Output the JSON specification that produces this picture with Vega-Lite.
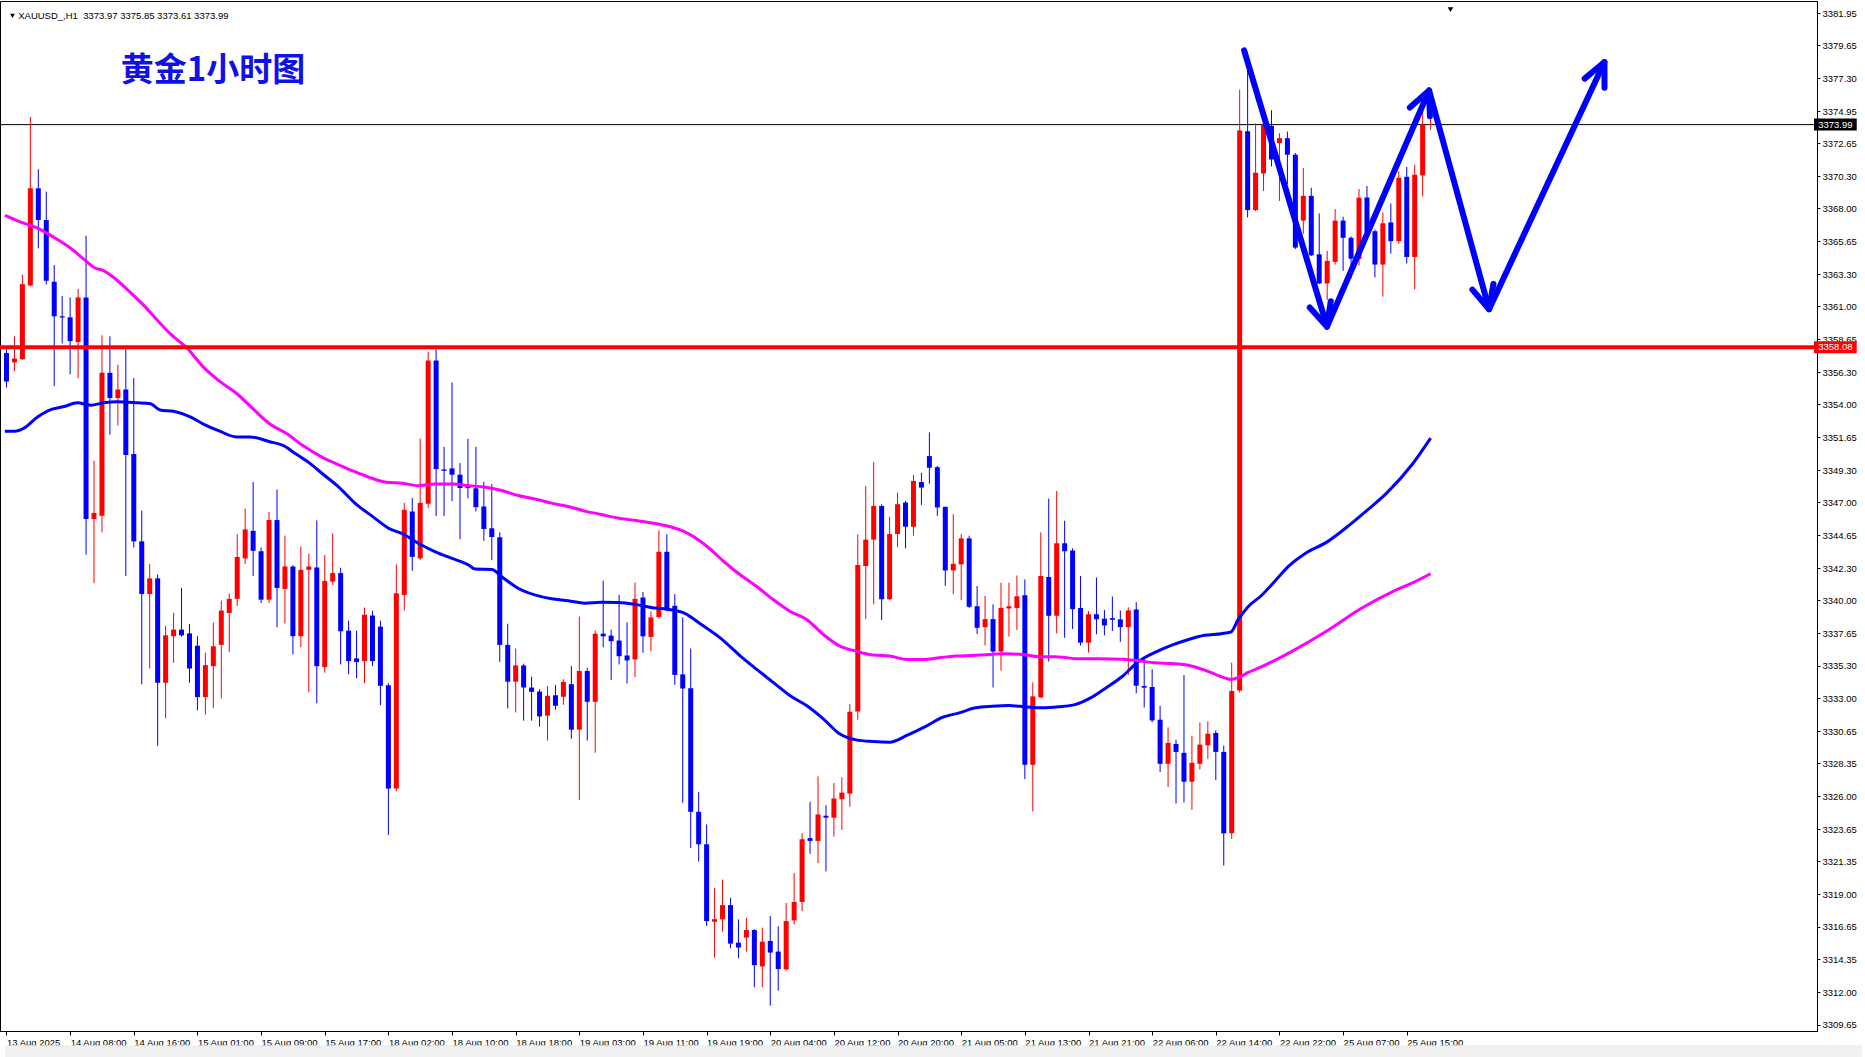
{
"$schema": "https://vega.github.io/schema/vega-lite/v6.json",
"autosize": {"type": "none"},
"width": 1817, "height": 1030,
"padding": {"left": 0, "top": 1, "right": 48, "bottom": 26},
"background": "white",
"view": {"stroke": "black", "strokeWidth": 1},
"config": {"axis": {"labelFont": "Liberation Sans", "labelFontSize": 9.5, "labelColor": "black", "tickColor": "black", "domainColor": "black", "grid": false, "labelOverlap": false, "labelFlush": false, "labelBound": false}},
"datasets": {
"candles": [
{"i":0,"o":3357.67,"h":3358.1,"l":3355.2,"c":3355.64},
{"i":1,"o":3357.0,"h":3358.86,"l":3356.38,"c":3357.27},
{"i":2,"o":3357.23,"h":3363.27,"l":3357.17,"c":3362.59},
{"i":3,"o":3362.49,"h":3374.53,"l":3362.42,"c":3369.44},
{"i":4,"o":3369.44,"h":3370.8,"l":3365.14,"c":3367.17},
{"i":5,"o":3367.17,"h":3369.2,"l":3362.56,"c":3362.83},
{"i":6,"o":3362.76,"h":3363.95,"l":3355.3,"c":3360.29},
{"i":7,"o":3360.3,"h":3361.75,"l":3358.35,"c":3360.2},
{"i":8,"o":3360.22,"h":3361.64,"l":3356.15,"c":3358.52},
{"i":9,"o":3358.45,"h":3362.25,"l":3355.88,"c":3361.64},
{"i":10,"o":3361.64,"h":3366.05,"l":3343.26,"c":3345.8},
{"i":11,"o":3345.8,"h":3349.97,"l":3341.22,"c":3346.24},
{"i":12,"o":3346.04,"h":3358.93,"l":3344.85,"c":3356.25},
{"i":13,"o":3356.25,"h":3358.86,"l":3351.84,"c":3354.45},
{"i":14,"o":3354.45,"h":3356.83,"l":3352.48,"c":3355.06},
{"i":15,"o":3355.06,"h":3358.01,"l":3341.73,"c":3350.38},
{"i":16,"o":3350.45,"h":3355.88,"l":3343.77,"c":3344.21},
{"i":17,"o":3344.21,"h":3346.41,"l":3333.99,"c":3340.44},
{"i":18,"o":3340.44,"h":3342.58,"l":3335.12,"c":3341.56},
{"i":19,"o":3341.56,"h":3341.83,"l":3329.59,"c":3334.1},
{"i":20,"o":3334.1,"h":3338.17,"l":3331.56,"c":3337.49},
{"i":21,"o":3337.43,"h":3339.09,"l":3335.52,"c":3337.9},
{"i":22,"o":3337.9,"h":3340.88,"l":3337.4,"c":3337.49},
{"i":23,"o":3337.63,"h":3338.31,"l":3334.1,"c":3335.12},
{"i":24,"o":3336.75,"h":3337.43,"l":3332.13,"c":3333.08},
{"i":25,"o":3333.08,"h":3336.24,"l":3331.83,"c":3335.36},
{"i":26,"o":3335.29,"h":3338.41,"l":3332.3,"c":3336.71},
{"i":27,"o":3336.81,"h":3339.97,"l":3332.98,"c":3339.26},
{"i":28,"o":3339.09,"h":3340.48,"l":3336.3,"c":3340.1},
{"i":29,"o":3340.1,"h":3344.72,"l":3339.59,"c":3343.09},
{"i":30,"o":3342.99,"h":3346.55,"l":3342.58,"c":3345.06},
{"i":31,"o":3344.96,"h":3348.45,"l":3341.73,"c":3343.53},
{"i":32,"o":3343.5,"h":3343.77,"l":3339.8,"c":3340.04},
{"i":33,"o":3340.04,"h":3346.31,"l":3339.8,"c":3345.73},
{"i":34,"o":3345.73,"h":3347.91,"l":3338.07,"c":3340.88},
{"i":35,"o":3340.81,"h":3344.62,"l":3338.34,"c":3342.41},
{"i":36,"o":3342.41,"h":3342.5,"l":3336.14,"c":3337.43},
{"i":37,"o":3337.43,"h":3343.84,"l":3336.65,"c":3342.17},
{"i":38,"o":3342.17,"h":3343.33,"l":3333.42,"c":3342.41},
{"i":39,"o":3342.34,"h":3345.7,"l":3332.64,"c":3335.29},
{"i":40,"o":3335.22,"h":3343.22,"l":3334.82,"c":3341.38},
{"i":41,"o":3341.33,"h":3344.78,"l":3341.09,"c":3341.94},
{"i":42,"o":3341.94,"h":3342.32,"l":3335.41,"c":3337.78},
{"i":43,"o":3337.83,"h":3338.54,"l":3334.7,"c":3335.65},
{"i":44,"o":3335.84,"h":3337.83,"l":3334.42,"c":3335.58},
{"i":45,"o":3335.65,"h":3339.48,"l":3334.07,"c":3338.96},
{"i":46,"o":3338.91,"h":3339.25,"l":3335.3,"c":3335.65},
{"i":47,"o":3338.11,"h":3338.54,"l":3332.5,"c":3333.88},
{"i":48,"o":3333.92,"h":3334.07,"l":3323.23,"c":3326.54},
{"i":49,"o":3326.54,"h":3342.56,"l":3326.35,"c":3340.5},
{"i":50,"o":3340.38,"h":3346.96,"l":3339.27,"c":3346.46},
{"i":51,"o":3346.34,"h":3347.31,"l":3342.11,"c":3343.1},
{"i":52,"o":3342.99,"h":3351.55,"l":3342.87,"c":3346.96},
{"i":53,"o":3346.89,"h":3357.77,"l":3346.6,"c":3357.13},
{"i":54,"o":3357.13,"h":3358.0,"l":3346.01,"c":3349.37},
{"i":55,"o":3349.35,"h":3350.96,"l":3346.01,"c":3349.25},
{"i":56,"o":3349.42,"h":3355.57,"l":3347.08,"c":3348.97},
{"i":57,"o":3348.97,"h":3349.8,"l":3344.36,"c":3348.02},
{"i":58,"o":3348.24,"h":3351.53,"l":3347.29,"c":3348.02},
{"i":59,"o":3348.0,"h":3350.96,"l":3346.34,"c":3346.65},
{"i":60,"o":3346.7,"h":3348.47,"l":3344.24,"c":3345.09},
{"i":61,"o":3345.14,"h":3348.31,"l":3342.87,"c":3344.52},
{"i":62,"o":3344.5,"h":3344.85,"l":3335.58,"c":3336.81},
{"i":63,"o":3336.81,"h":3338.32,"l":3332.27,"c":3334.18},
{"i":64,"o":3334.18,"h":3336.55,"l":3331.98,"c":3335.34},
{"i":65,"o":3335.34,"h":3335.46,"l":3331.39,"c":3333.76},
{"i":66,"o":3333.76,"h":3334.54,"l":3331.39,"c":3333.45},
{"i":67,"o":3333.47,"h":3333.64,"l":3330.97,"c":3331.7},
{"i":68,"o":3331.75,"h":3333.88,"l":3329.97,"c":3333.17},
{"i":69,"o":3333.21,"h":3333.95,"l":3332.17,"c":3332.46},
{"i":70,"o":3333.1,"h":3334.35,"l":3332.53,"c":3334.16},
{"i":71,"o":3334.0,"h":3335.3,"l":3330.09,"c":3330.75},
{"i":72,"o":3330.75,"h":3338.84,"l":3325.71,"c":3334.94},
{"i":73,"o":3334.94,"h":3335.18,"l":3329.97,"c":3332.74},
{"i":74,"o":3332.74,"h":3337.83,"l":3329.1,"c":3337.61},
{"i":75,"o":3337.61,"h":3341.4,"l":3336.64,"c":3337.42},
{"i":76,"o":3337.47,"h":3337.9,"l":3334.3,"c":3337.07},
{"i":77,"o":3337.12,"h":3340.38,"l":3335.41,"c":3336.0},
{"i":78,"o":3336.05,"h":3338.42,"l":3334.04,"c":3335.7},
{"i":79,"o":3335.77,"h":3341.26,"l":3334.51,"c":3340.1},
{"i":80,"o":3340.19,"h":3340.59,"l":3336.24,"c":3337.42},
{"i":81,"o":3337.38,"h":3339.2,"l":3336.36,"c":3338.77},
{"i":82,"o":3338.8,"h":3345.0,"l":3338.68,"c":3343.46},
{"i":83,"o":3343.46,"h":3344.71,"l":3339.2,"c":3339.32},
{"i":84,"o":3339.6,"h":3340.43,"l":3333.95,"c":3334.66},
{"i":85,"o":3334.7,"h":3338.77,"l":3325.52,"c":3333.69},
{"i":86,"o":3333.71,"h":3336.55,"l":3322.28,"c":3324.88},
{"i":87,"o":3324.88,"h":3326.3,"l":3321.33,"c":3322.56},
{"i":88,"o":3322.56,"h":3323.98,"l":3316.72,"c":3317.07},
{"i":89,"o":3317.02,"h":3319.44,"l":3314.47,"c":3317.21},
{"i":90,"o":3317.19,"h":3320.03,"l":3316.31,"c":3318.21},
{"i":91,"o":3318.21,"h":3318.73,"l":3315.13,"c":3315.46},
{"i":92,"o":3315.53,"h":3317.19,"l":3314.42,"c":3315.18},
{"i":93,"o":3315.89,"h":3317.31,"l":3314.89,"c":3316.43},
{"i":94,"o":3316.43,"h":3316.5,"l":3312.34,"c":3313.92},
{"i":95,"o":3313.83,"h":3316.6,"l":3312.34,"c":3315.6},
{"i":96,"o":3315.65,"h":3317.43,"l":3311.03,"c":3314.82},
{"i":97,"o":3314.89,"h":3316.71,"l":3312.1,"c":3313.64},
{"i":98,"o":3313.62,"h":3318.37,"l":3313.52,"c":3317.07},
{"i":99,"o":3317.12,"h":3320.5,"l":3316.83,"c":3318.44},
{"i":100,"o":3318.44,"h":3323.34,"l":3317.78,"c":3322.92},
{"i":101,"o":3323.0,"h":3325.59,"l":3321.87,"c":3322.8},
{"i":102,"o":3322.8,"h":3327.41,"l":3321.21,"c":3324.69},
{"i":103,"o":3324.6,"h":3325.35,"l":3320.62,"c":3324.46},
{"i":104,"o":3324.46,"h":3326.94,"l":3323.11,"c":3325.83},
{"i":105,"o":3325.78,"h":3327.34,"l":3323.58,"c":3326.25},
{"i":106,"o":3326.18,"h":3332.57,"l":3325.24,"c":3332.03},
{"i":107,"o":3332.05,"h":3344.7,"l":3331.46,"c":3342.51},
{"i":108,"o":3342.44,"h":3348.16,"l":3338.65,"c":3344.33},
{"i":109,"o":3344.33,"h":3349.87,"l":3339.71,"c":3346.74},
{"i":110,"o":3346.74,"h":3346.86,"l":3338.58,"c":3340.07},
{"i":111,"o":3340.07,"h":3345.96,"l":3340.0,"c":3344.73},
{"i":112,"o":3344.73,"h":3347.69,"l":3343.79,"c":3346.86},
{"i":113,"o":3346.98,"h":3347.1,"l":3343.71,"c":3345.25},
{"i":114,"o":3345.25,"h":3348.95,"l":3344.61,"c":3348.52},
{"i":115,"o":3348.45,"h":3349.11,"l":3346.81,"c":3348.05},
{"i":116,"o":3350.3,"h":3352.0,"l":3348.33,"c":3349.47},
{"i":117,"o":3349.51,"h":3349.6,"l":3346.03,"c":3346.63},
{"i":118,"o":3346.67,"h":3346.7,"l":3341.02,"c":3342.13},
{"i":119,"o":3342.13,"h":3346.15,"l":3340.42,"c":3342.6},
{"i":120,"o":3342.56,"h":3344.73,"l":3340.0,"c":3344.42},
{"i":121,"o":3344.42,"h":3344.61,"l":3339.45,"c":3339.53},
{"i":122,"o":3339.57,"h":3341.02,"l":3337.58,"c":3338.03},
{"i":123,"o":3338.08,"h":3340.31,"l":3336.76,"c":3338.65},
{"i":124,"o":3338.65,"h":3339.71,"l":3333.77,"c":3336.33},
{"i":125,"o":3336.33,"h":3341.25,"l":3334.98,"c":3339.45},
{"i":126,"o":3339.41,"h":3341.25,"l":3337.4,"c":3339.57},
{"i":127,"o":3339.45,"h":3341.77,"l":3337.87,"c":3340.28},
{"i":128,"o":3340.35,"h":3341.49,"l":3327.22,"c":3328.24},
{"i":129,"o":3328.24,"h":3334.13,"l":3324.9,"c":3333.13},
{"i":130,"o":3333.06,"h":3344.85,"l":3333.0,"c":3341.73},
{"i":131,"o":3341.66,"h":3347.27,"l":3335.62,"c":3338.89},
{"i":132,"o":3338.89,"h":3347.81,"l":3337.63,"c":3344.07},
{"i":133,"o":3344.07,"h":3345.68,"l":3337.32,"c":3343.5},
{"i":134,"o":3343.55,"h":3343.71,"l":3337.94,"c":3339.36},
{"i":135,"o":3339.45,"h":3341.73,"l":3336.76,"c":3336.97},
{"i":136,"o":3336.97,"h":3339.22,"l":3336.26,"c":3339.0},
{"i":137,"o":3339.0,"h":3341.62,"l":3337.57,"c":3338.64},
{"i":138,"o":3338.68,"h":3339.31,"l":3337.49,"c":3338.2},
{"i":139,"o":3338.72,"h":3340.26,"l":3337.8,"c":3338.6},
{"i":140,"o":3338.63,"h":3339.27,"l":3337.02,"c":3338.08},
{"i":141,"o":3338.08,"h":3339.5,"l":3334.65,"c":3339.27},
{"i":142,"o":3339.34,"h":3339.86,"l":3333.35,"c":3333.89},
{"i":143,"o":3333.87,"h":3335.95,"l":3332.33,"c":3333.75},
{"i":144,"o":3333.8,"h":3335.08,"l":3331.27,"c":3331.41},
{"i":145,"o":3331.46,"h":3332.45,"l":3327.72,"c":3328.31},
{"i":146,"o":3328.31,"h":3330.91,"l":3326.65,"c":3329.8},
{"i":147,"o":3329.73,"h":3330.04,"l":3325.47,"c":3329.16},
{"i":148,"o":3329.09,"h":3334.65,"l":3325.54,"c":3327.03},
{"i":149,"o":3327.03,"h":3330.32,"l":3325.02,"c":3328.38},
{"i":150,"o":3328.31,"h":3331.27,"l":3327.91,"c":3329.68},
{"i":151,"o":3329.63,"h":3331.34,"l":3328.66,"c":3330.46},
{"i":152,"o":3330.51,"h":3330.7,"l":3327.15,"c":3329.16},
{"i":153,"o":3329.16,"h":3329.61,"l":3321.04,"c":3323.34},
{"i":154,"o":3323.34,"h":3335.53,"l":3322.93,"c":3333.52},
{"i":155,"o":3333.55,"h":3376.49,"l":3333.4,"c":3373.57},
{"i":156,"o":3373.52,"h":3377.83,"l":3367.36,"c":3367.88},
{"i":157,"o":3367.88,"h":3374.08,"l":3367.8,"c":3370.55},
{"i":158,"o":3370.5,"h":3374.08,"l":3369.25,"c":3373.97},
{"i":159,"o":3373.9,"h":3375.02,"l":3371.0,"c":3371.5},
{"i":160,"o":3372.67,"h":3373.38,"l":3368.54,"c":3373.02},
{"i":161,"o":3373.02,"h":3373.49,"l":3369.72,"c":3371.84},
{"i":162,"o":3371.84,"h":3371.96,"l":3365.1,"c":3365.2},
{"i":163,"o":3367.13,"h":3370.9,"l":3366.18,"c":3368.9},
{"i":164,"o":3368.9,"h":3369.48,"l":3364.6,"c":3364.65},
{"i":165,"o":3364.72,"h":3367.64,"l":3362.6,"c":3362.64},
{"i":166,"o":3362.64,"h":3364.96,"l":3361.46,"c":3364.25},
{"i":167,"o":3364.18,"h":3367.95,"l":3363.99,"c":3367.13},
{"i":168,"o":3367.13,"h":3367.41,"l":3363.54,"c":3365.9},
{"i":169,"o":3365.9,"h":3366.0,"l":3363.0,"c":3364.41},
{"i":170,"o":3364.39,"h":3369.39,"l":3363.92,"c":3368.77},
{"i":171,"o":3368.78,"h":3369.6,"l":3366.2,"c":3366.3},
{"i":172,"o":3366.37,"h":3366.5,"l":3363.07,"c":3363.99},
{"i":173,"o":3363.99,"h":3367.72,"l":3361.7,"c":3366.94},
{"i":174,"o":3367.0,"h":3368.35,"l":3364.77,"c":3365.66},
{"i":175,"o":3365.66,"h":3370.66,"l":3365.47,"c":3370.19},
{"i":176,"o":3370.26,"h":3370.97,"l":3364.06,"c":3364.53},
{"i":177,"o":3364.53,"h":3371.12,"l":3362.22,"c":3370.41},
{"i":178,"o":3370.36,"h":3375.18,"l":3368.86,"c":3373.99},
{"i":179,"o":3373.97,"h":3375.85,"l":3373.61,"c":3373.99}
],
"ma": [
{"s":"fast","i":-0.2,"v":3352.08},{"s":"fast","i":1,"v":3352.08},{"s":"fast","i":2.25,"v":3352.32},{"s":"fast","i":3.9,"v":3353.1},{"s":"fast","i":5.2,"v":3353.54},{"s":"fast","i":7.25,"v":3353.84},{"s":"fast","i":8.9,"v":3354.11},{"s":"fast","i":10.6,"v":3353.94},{"s":"fast","i":12.25,"v":3354.11},{"s":"fast","i":13.9,"v":3354.18},{"s":"fast","i":16.4,"v":3354.11},{"s":"fast","i":18.1,"v":3354.04},{"s":"fast","i":19.3,"v":3353.6},{"s":"fast","i":21,"v":3353.5},{"s":"fast","i":23.1,"v":3353.1},{"s":"fast","i":24.75,"v":3352.59},{"s":"fast","i":26.8,"v":3352.08},{"s":"fast","i":28.9,"v":3351.67},{"s":"fast","i":30.6,"v":3351.67},{"s":"fast","i":33.1,"v":3351.33},{"s":"fast","i":34.75,"v":3351.06},{"s":"fast","i":36.4,"v":3350.45},{"s":"fast","i":38.1,"v":3349.8},{"s":"fast","i":39.75,"v":3349.02},{"s":"fast","i":41.8,"v":3348.07},{"s":"fast","i":43.9,"v":3346.89},{"s":"fast","i":46,"v":3345.99},{"s":"fast","i":48.1,"v":3345.12},{"s":"fast","i":49.75,"v":3344.76},{"s":"fast","i":51.8,"v":3344.05},{"s":"fast","i":53.9,"v":3343.46},{"s":"fast","i":56,"v":3342.99},{"s":"fast","i":58.1,"v":3342.51},{"s":"fast","i":58.9,"v":3342.23},{"s":"fast","i":61,"v":3342.2},{"s":"fast","i":62.25,"v":3341.68},{"s":"fast","i":64.3,"v":3340.86},{"s":"fast","i":66.4,"v":3340.38},{"s":"fast","i":68.5,"v":3340.1},{"s":"fast","i":70.6,"v":3339.96},{"s":"fast","i":72.7,"v":3339.79},{"s":"fast","i":74.75,"v":3339.86},{"s":"fast","i":76.8,"v":3339.84},{"s":"fast","i":78.9,"v":3339.72},{"s":"fast","i":81,"v":3339.48},{"s":"fast","i":83.1,"v":3339.36},{"s":"fast","i":85.2,"v":3339.08},{"s":"fast","i":87.25,"v":3338.3},{"s":"fast","i":89.7,"v":3337.31},{"s":"fast","i":92.25,"v":3336.01},{"s":"fast","i":94.3,"v":3335.06},{"s":"fast","i":96.4,"v":3334.11},{"s":"fast","i":98.5,"v":3333.17},{"s":"fast","i":100.6,"v":3332.46},{"s":"fast","i":102.7,"v":3331.51},{"s":"fast","i":104.75,"v":3330.44},{"s":"fast","i":106.8,"v":3330.02},{"s":"fast","i":108.9,"v":3329.9},{"s":"fast","i":111,"v":3329.85},{"s":"fast","i":113.3,"v":3330.37},{"s":"fast","i":115.6,"v":3331.0},{"s":"fast","i":117.7,"v":3331.64},{"s":"fast","i":119.75,"v":3331.95},{"s":"fast","i":121.8,"v":3332.31},{"s":"fast","i":123.9,"v":3332.42},{"s":"fast","i":126,"v":3332.47},{"s":"fast","i":128.1,"v":3332.38},{"s":"fast","i":130.2,"v":3332.31},{"s":"fast","i":132.25,"v":3332.38},{"s":"fast","i":134.3,"v":3332.54},{"s":"fast","i":136.2,"v":3333.0},{"s":"fast","i":138.1,"v":3333.7},{"s":"fast","i":140.2,"v":3334.53},{"s":"fast","i":142.25,"v":3335.6},{"s":"fast","i":144.3,"v":3336.26},{"s":"fast","i":146.4,"v":3336.78},{"s":"fast","i":148.5,"v":3337.18},{"s":"fast","i":150.6,"v":3337.49},{"s":"fast","i":152.7,"v":3337.61},{"s":"fast","i":153.9,"v":3337.73},{"s":"fast","i":154.75,"v":3338.56},{"s":"fast","i":156,"v":3339.5},{"s":"fast","i":157.7,"v":3340.32},{"s":"fast","i":159.75,"v":3341.57},{"s":"fast","i":161,"v":3342.35},{"s":"fast","i":163.1,"v":3343.29},{"s":"fast","i":166,"v":3344.17},{"s":"fast","i":168.9,"v":3345.42},{"s":"fast","i":171,"v":3346.42},{"s":"fast","i":173.5,"v":3347.67},{"s":"fast","i":176.8,"v":3349.79},{"s":"fast","i":179,"v":3351.58},
{"s":"slow","i":-0.2,"v":3367.51},{"s":"slow","i":2.25,"v":3366.93},{"s":"slow","i":3.9,"v":3366.6},{"s":"slow","i":6,"v":3365.92},{"s":"slow","i":8.1,"v":3365.14},{"s":"slow","i":9.75,"v":3364.36},{"s":"slow","i":11,"v":3363.78},{"s":"slow","i":12.25,"v":3363.54},{"s":"slow","i":13.9,"v":3362.87},{"s":"slow","i":15.6,"v":3361.98},{"s":"slow","i":17.25,"v":3361.07},{"s":"slow","i":18.9,"v":3360.05},{"s":"slow","i":20.6,"v":3359.03},{"s":"slow","i":22.7,"v":3358.01},{"s":"slow","i":24.75,"v":3356.66},{"s":"slow","i":26.8,"v":3355.64},{"s":"slow","i":28.9,"v":3354.79},{"s":"slow","i":31,"v":3353.67},{"s":"slow","i":33.1,"v":3352.59},{"s":"slow","i":35.2,"v":3351.91},{"s":"slow","i":37.25,"v":3351.05},{"s":"slow","i":39.7,"v":3350.21},{"s":"slow","i":41.4,"v":3349.77},{"s":"slow","i":43.5,"v":3349.25},{"s":"slow","i":45.6,"v":3348.78},{"s":"slow","i":47.7,"v":3348.43},{"s":"slow","i":49.75,"v":3348.36},{"s":"slow","i":51.8,"v":3348.19},{"s":"slow","i":53.9,"v":3348.31},{"s":"slow","i":56,"v":3348.31},{"s":"slow","i":58.1,"v":3348.19},{"s":"slow","i":60.2,"v":3348.07},{"s":"slow","i":62.25,"v":3347.84},{"s":"slow","i":64.3,"v":3347.48},{"s":"slow","i":66.4,"v":3347.24},{"s":"slow","i":68.5,"v":3346.94},{"s":"slow","i":70.6,"v":3346.7},{"s":"slow","i":72.7,"v":3346.37},{"s":"slow","i":74.75,"v":3346.13},{"s":"slow","i":76.8,"v":3345.87},{"s":"slow","i":78.9,"v":3345.71},{"s":"slow","i":81,"v":3345.54},{"s":"slow","i":83.1,"v":3345.3},{"s":"slow","i":85.2,"v":3344.9},{"s":"slow","i":87.25,"v":3344.2},{"s":"slow","i":88.1,"v":3343.82},{"s":"slow","i":90.2,"v":3342.75},{"s":"slow","i":92.25,"v":3341.8},{"s":"slow","i":94.3,"v":3340.98},{"s":"slow","i":96.4,"v":3340.03},{"s":"slow","i":98.5,"v":3339.2},{"s":"slow","i":100.6,"v":3338.61},{"s":"slow","i":102.7,"v":3337.54},{"s":"slow","i":104.75,"v":3336.72},{"s":"slow","i":106.8,"v":3336.36},{"s":"slow","i":108.9,"v":3336.08},{"s":"slow","i":111,"v":3336.01},{"s":"slow","i":113.1,"v":3335.77},{"s":"slow","i":115.2,"v":3335.77},{"s":"slow","i":117.25,"v":3335.89},{"s":"slow","i":119.3,"v":3336.01},{"s":"slow","i":121.4,"v":3336.05},{"s":"slow","i":123.5,"v":3336.12},{"s":"slow","i":125.6,"v":3336.17},{"s":"slow","i":127.7,"v":3336.12},{"s":"slow","i":129.75,"v":3335.96},{"s":"slow","i":132.2,"v":3335.95},{"s":"slow","i":134.75,"v":3335.81},{"s":"slow","i":137.25,"v":3335.81},{"s":"slow","i":140.2,"v":3335.79},{"s":"slow","i":142.25,"v":3335.67},{"s":"slow","i":144.3,"v":3335.53},{"s":"slow","i":146.4,"v":3335.48},{"s":"slow","i":148.5,"v":3335.36},{"s":"slow","i":150.6,"v":3335.01},{"s":"slow","i":152.7,"v":3334.53},{"s":"slow","i":153.9,"v":3334.34},{"s":"slow","i":155.2,"v":3334.58},{"s":"slow","i":156,"v":3334.82},{"s":"slow","i":157.7,"v":3335.23},{"s":"slow","i":161.8,"v":3336.42},{"s":"slow","i":166,"v":3337.82},{"s":"slow","i":170.2,"v":3339.39},{"s":"slow","i":174.3,"v":3340.64},{"s":"slow","i":176.8,"v":3341.26},{"s":"slow","i":179,"v":3341.89}
],
"arrows": [
{"g":"shaft","k":1,"i":155.56,"p":3379.3},{"g":"shaft","k":2,"i":165.98,"p":3359.55},{"g":"shaft","k":3,"i":178.81,"p":3376.43},{"g":"shaft","k":4,"i":186.35,"p":3360.8},{"g":"shaft","k":5,"i":200.85,"p":3378.46},
{"g":"h1","k":1,"i":166.45,"p":3361.37},{"g":"h1","k":2,"i":165.98,"p":3359.55},{"g":"h1","k":3,"i":163.81,"p":3360.92},
{"g":"h2","k":1,"i":176.39,"p":3375.21},{"g":"h2","k":2,"i":178.81,"p":3376.43},{"g":"h2","k":3,"i":178.91,"p":3374.59},
{"g":"h3","k":1,"i":186.9,"p":3362.61},{"g":"h3","k":2,"i":186.35,"p":3360.8},{"g":"h3","k":3,"i":184.25,"p":3362.2},
{"g":"h4","k":1,"i":198.36,"p":3377.28},{"g":"h4","k":2,"i":200.85,"p":3378.46},{"g":"h4","k":3,"i":200.86,"p":3376.62}
]
},
"layer": [
{"data": {"values": [{"p": 3373.99}]},
 "mark": {"type": "rule", "color": "black", "strokeWidth": 1},
 "encoding": {"y": {"field": "p", "type": "quantitative", "scale": {"domain": [3309.572, 3382.467], "nice": false, "zero": false}}}},
{"data": {"name": "candles"},
 "mark": {"type": "rule", "strokeWidth": 1},
 "encoding": {
  "x": {"field": "i", "type": "quantitative", "scale": {"domain": [-0.1875, 226.9375], "nice": false, "zero": false},
   "axis": {"orient": "bottom", "title": null, "tickSize": 4, "tickCount": 60, "labelAlign": "left", "labelBaseline": "top", "labelPadding": 2, "labelDx": 1, "labelOverlap": false, "labelFlush": false, "labelBound": false, "labelFontSize": 9.5, "labelFont": "Liberation Sans",
    "values": [0,8,16,24,32,40,48,56,64,72,80,88,96,104,112,120,128,136,144,152,160,168,176],
    "labelExpr": "['13 Aug 2025','14 Aug 08:00','14 Aug 16:00','15 Aug 01:00','15 Aug 09:00','15 Aug 17:00','18 Aug 02:00','18 Aug 10:00','18 Aug 18:00','19 Aug 03:00','19 Aug 11:00','19 Aug 19:00','20 Aug 04:00','20 Aug 12:00','20 Aug 20:00','21 Aug 05:00','21 Aug 13:00','21 Aug 21:00','22 Aug 06:00','22 Aug 14:00','22 Aug 22:00','25 Aug 07:00','25 Aug 15:00'][round(datum.value/8)]"}},
  "y": {"field": "l", "type": "quantitative", "scale": {"domain": [3309.572, 3382.467], "nice": false, "zero": false},
   "axis": {"orient": "right", "title": null, "format": ".2f", "tickSize": 3, "tickCount": 60, "labelPadding": 2, "labelBaseline": "middle", "labelOverlap": false, "labelFlush": false, "labelBound": false, "labelFontSize": 9.5, "labelFont": "Liberation Sans",
    "values": [3381.95,3379.65,3377.3,3374.95,3372.65,3370.3,3368.0,3365.65,3363.3,3361.0,3358.65,3356.3,3354.0,3351.65,3349.3,3347.0,3344.65,3342.3,3340.0,3337.65,3335.3,3333.0,3330.65,3328.35,3326.0,3323.65,3321.35,3319.0,3316.65,3314.35,3312.0,3309.65]}},
  "y2": {"field": "h"},
  "color": {"condition": {"test": "datum.c >= datum.o", "value": "#ff0000"}, "value": "#0000ff"}}},
{"data": {"name": "candles"},
 "mark": {"type": "bar", "size": 5, "orient": "vertical"},
 "encoding": {
  "x": {"field": "i", "type": "quantitative", "scale": {"domain": [-0.1875, 226.9375], "nice": false, "zero": false}},
  "y": {"field": "o", "type": "quantitative", "scale": {"domain": [3309.572, 3382.467], "nice": false, "zero": false}},
  "y2": {"field": "c"},
  "color": {"condition": {"test": "datum.c >= datum.o", "value": "#ff0000"}, "value": "#0000ff"}}},
{"data": {"name": "ma"},
 "transform": [{"filter": "datum.s == 'fast'"}],
 "mark": {"type": "line", "strokeWidth": 3, "interpolate": "monotone", "color": "#0000ff"},
 "encoding": {
  "x": {"field": "i", "type": "quantitative", "scale": {"domain": [-0.1875, 226.9375], "nice": false, "zero": false}},
  "y": {"field": "v", "type": "quantitative", "scale": {"domain": [3309.572, 3382.467], "nice": false, "zero": false}}}},
{"data": {"name": "ma"},
 "transform": [{"filter": "datum.s == 'slow'"}],
 "mark": {"type": "line", "strokeWidth": 3, "interpolate": "monotone", "color": "#ff00ff"},
 "encoding": {
  "x": {"field": "i", "type": "quantitative", "scale": {"domain": [-0.1875, 226.9375], "nice": false, "zero": false}},
  "y": {"field": "v", "type": "quantitative", "scale": {"domain": [3309.572, 3382.467], "nice": false, "zero": false}}}},
{"data": {"values": [{"p": 3358.08}]},
 "mark": {"type": "rule", "color": "#ff0000", "strokeWidth": 4},
 "encoding": {"y": {"field": "p", "type": "quantitative", "scale": {"domain": [3309.572, 3382.467], "nice": false, "zero": false}}}},
{"data": {"name": "arrows"},
 "mark": {"type": "line", "color": "#0000ff", "strokeWidth": 6, "strokeCap": "round", "strokeJoin": "round"},
 "encoding": {
  "x": {"field": "i", "type": "quantitative", "scale": {"domain": [-0.1875, 226.9375], "nice": false, "zero": false}},
  "y": {"field": "p", "type": "quantitative", "scale": {"domain": [3309.572, 3382.467], "nice": false, "zero": false}},
  "detail": {"field": "g", "type": "nominal"},
  "order": {"field": "k", "type": "quantitative"}}},
{"data": {"values": [{"p": 3373.99}]},
 "mark": {"type": "bar", "orient": "horizontal", "size": 12, "color": "#000000"},
 "encoding": {
  "x": {"datum": 227.19, "type": "quantitative", "scale": {"domain": [-0.1875, 226.9375], "nice": false, "zero": false}},
  "x2": {"datum": 232.56},
  "y": {"field": "p", "type": "quantitative", "scale": {"domain": [3309.572, 3382.467], "nice": false, "zero": false}}}},
{"data": {"values": [{"p": 3358.08}]},
 "mark": {"type": "bar", "orient": "horizontal", "size": 12, "color": "#ff0000"},
 "encoding": {
  "x": {"datum": 227.19, "type": "quantitative", "scale": {"domain": [-0.1875, 226.9375], "nice": false, "zero": false}},
  "x2": {"datum": 232.56},
  "y": {"field": "p", "type": "quantitative", "scale": {"domain": [3309.572, 3382.467], "nice": false, "zero": false}}}},
{"data": {"values": [{"p": 3373.99}, {"p": 3358.08}]},
 "mark": {"type": "text", "color": "white", "font": "Liberation Sans", "fontSize": 9.5, "align": "center", "baseline": "middle"},
 "encoding": {
  "x": {"datum": 229.875, "type": "quantitative", "scale": {"domain": [-0.1875, 226.9375], "nice": false, "zero": false}},
  "y": {"field": "p", "type": "quantitative", "scale": {"domain": [3309.572, 3382.467], "nice": false, "zero": false}},
  "text": {"field": "p", "type": "quantitative", "format": ".2f"}}},
{"data": {"values": [{"t": "黄金1小时图"}]},
 "mark": {"type": "text", "color": "#1010e8", "font": "Noto Sans CJK SC", "fontWeight": "bold", "fontSize": 33, "align": "left", "baseline": "middle"},
 "encoding": {
  "x": {"datum": 14.35, "type": "quantitative", "scale": {"domain": [-0.1875, 226.9375], "nice": false, "zero": false}},
  "y": {"datum": 3377.82, "type": "quantitative", "scale": {"domain": [3309.572, 3382.467], "nice": false, "zero": false}},
  "text": {"field": "t"}}},
{"data": {"values": [{"t": "XAUUSD_,H1 \u00a03373.97 3375.85 3373.61 3373.99"}]},
 "mark": {"type": "text", "color": "black", "font": "Liberation Sans", "fontSize": 9.5, "align": "left", "baseline": "middle"},
 "encoding": {
  "x": {"datum": 1.475, "type": "quantitative", "scale": {"domain": [-0.1875, 226.9375], "nice": false, "zero": false}},
  "y": {"datum": 3381.76, "type": "quantitative", "scale": {"domain": [3309.572, 3382.467], "nice": false, "zero": false}},
  "text": {"field": "t"}}},
{"data": {"values": [{"i": 0.75, "p": 3381.76, "s": 22}, {"i": 181.5, "p": 3382.2, "s": 30}]},
 "mark": {"type": "point", "shape": "triangle-down", "filled": true, "color": "black", "opacity": 1},
 "encoding": {
  "x": {"field": "i", "type": "quantitative", "scale": {"domain": [-0.1875, 226.9375], "nice": false, "zero": false}},
  "y": {"field": "p", "type": "quantitative", "scale": {"domain": [3309.572, 3382.467], "nice": false, "zero": false}},
  "size": {"field": "s", "type": "quantitative", "scale": null}}},
{"data": {"values": [{}]},
 "mark": {"type": "rect", "color": "#f0f0f0"},
 "encoding": {
  "x": {"datum": -0.1875, "type": "quantitative", "scale": {"domain": [-0.1875, 226.9375], "nice": false, "zero": false}},
  "x2": {"datum": 233.2},
  "y": {"datum": 3308.2, "type": "quantitative", "scale": {"domain": [3309.572, 3382.467], "nice": false, "zero": false}},
  "y2": {"datum": 3307.3}}}
]
}
